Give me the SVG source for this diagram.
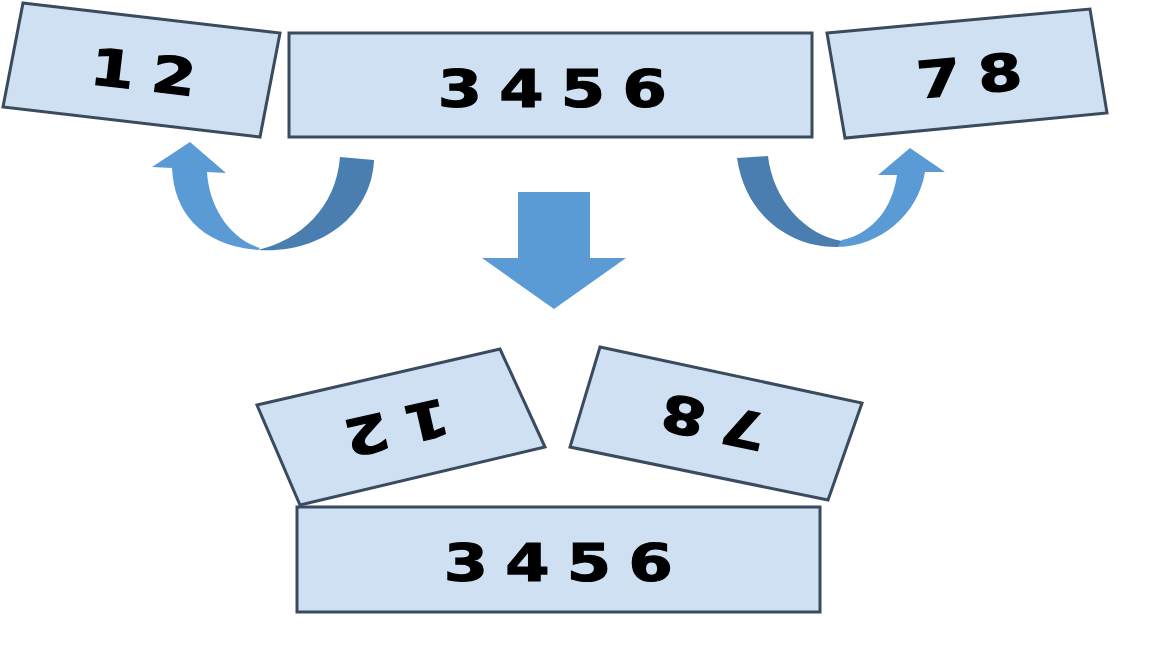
<svg xmlns="http://www.w3.org/2000/svg" width="1152" height="648" viewBox="0 0 1152 648">
<style>
.box{fill:#cfe0f2;stroke:#3a4a5f;stroke-width:3;stroke-linejoin:miter}
.lbl{font-family:"DejaVu Sans","Liberation Sans",sans-serif;font-weight:bold;font-size:51px;fill:#000;stroke:#000;stroke-width:1.2px;text-anchor:middle;letter-spacing:-2px}
.lt{fill:#5b9bd5}
.dk{fill:#4a7eb0}
</style>
<rect width="1152" height="648" fill="#ffffff"/>
<g id="top-left">
<polygon class="box" points="23,3 280,33 260,137 3,107"/>
<g transform="translate(142,72) rotate(6.7) scale(1.25,1)"><text class="lbl" x="0" y="18">1 2</text></g>
</g>
<g id="top-middle">
<rect class="box" x="289" y="33" width="523" height="104"/>
<g transform="translate(551,89) scale(1.25,1)"><text class="lbl" x="0" y="18">3 4 5 6</text></g>
</g>
<g id="top-right">
<polygon class="box" points="827,33 1090,9 1107,113 845,138"/>
<g transform="translate(968,76) rotate(-5.2) scale(1.25,1)"><text class="lbl" x="0" y="18">7 8</text></g>
</g>
<g id="bottom-left">
<polygon class="box" points="257,405 500,349 545,447 300,505"/>
<g transform="translate(398,427) rotate(167) scale(1.25,1)"><text class="lbl" x="0" y="18">1 2</text></g>
</g>
<g id="bottom-right">
<polygon class="box" points="600,347 862,403 828,500 570,447"/>
<g transform="translate(715,422) rotate(192) scale(1.25,1)"><text class="lbl" x="0" y="18">7 8</text></g>
</g>
<g id="bottom-middle">
<rect class="box" x="297" y="507" width="523" height="105"/>
<g transform="translate(557,563) scale(1.25,1)"><text class="lbl" x="0" y="18">3 4 5 6</text></g>
</g>
<g id="connectors">
<polygon class="lt" points="518,192 590,192 590,258 626,258 554,309 482,258 518,258"/>
<path class="dk" d="M340,157 L374,160 C372,212 325,254 258,250 C300,240 336,208 340,157 Z"/>
<path class="lt" d="M258,250 C200,245 174,212 172,168 L152,167 L190,142 L226,173 L207,172 C209,205 228,238 260,248 Z"/>
<path class="dk" d="M737,158 L768,156 C773,200 805,235 842,241 L838,247 C790,248 745,215 737,158 Z"/>
<path class="lt" d="M838,247 C880,246 918,215 925,172 L945,172 L910,148 L878,175 L897,175 C893,205 875,233 842,240 Z"/>
</g>
</svg>
